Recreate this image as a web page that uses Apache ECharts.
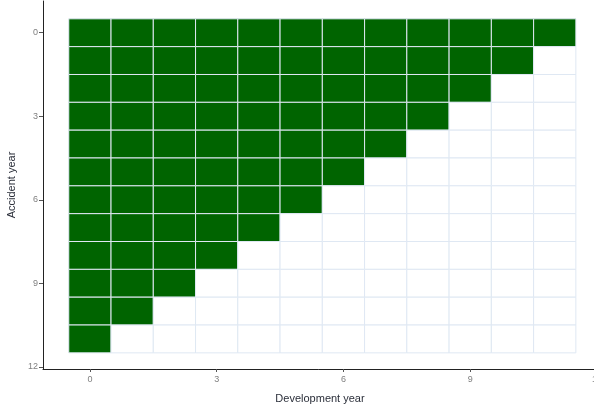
<!DOCTYPE html>
<html>
<head>
<meta charset="utf-8">
<script src="https://cdn.jsdelivr.net/npm/echarts@6/dist/echarts.min.js"></script>
<style>
  html, body { margin: 0; padding: 0; background: #fff; }
  #chart { width: 594px; height: 408px; }
</style>
</head>
<body>
<div id="chart"></div>
<script>
// Run-off triangle: which accident/development year cells have been observed
const accidentYears = [0, 1, 2, 3, 4, 5, 6, 7, 8, 9, 10, 11];
const developmentYears = [0, 1, 2, 3, 4, 5, 6, 7, 8, 9, 10, 11];
// number of observed development years for each accident year
const observedPeriods = [12, 11, 10, 9, 8, 7, 6, 5, 4, 3, 2, 1];
const xTickValues = [0, 3, 6, 9, 12];
const yTickValues = [0, 3, 6, 9, 12];

const cells = [];
accidentYears.forEach((ay, i) => {
  developmentYears.forEach((dy, j) => {
    cells.push([dy, ay, j < observedPeriods[i] ? 1 : 0]);
  });
});

const chart = echarts.init(document.getElementById('chart'));

const tickLabel = { color: '#7f7f7f', fontSize: 9, fontFamily: 'Liberation Sans, Arial, sans-serif' };
const nameStyle = { color: '#2b2f3a', fontSize: 11, fontFamily: 'Liberation Sans, Arial, sans-serif' };

chart.setOption({
  animation: false,
  grid: { left: 43, right: -3, top: 1, bottom: 39, containLabel: false, outerBoundsMode: 'none' },
  xAxis: {
    type: 'value',
    min: -1.11,
    max: 12,
    name: 'Development year',
    nameLocation: 'middle',
    nameGap: 24,
    nameTextStyle: nameStyle,
    axisLine: { show: true, onZero: false, lineStyle: { color: '#222', width: 1 } },
    axisTick: { show: true, length: 3, lineStyle: { color: '#555' }, customValues: xTickValues },
    axisLabel: Object.assign({ customValues: xTickValues, margin: 6 }, tickLabel),
    splitLine: { show: false }
  },
  yAxis: {
    type: 'value',
    inverse: true,
    min: -1.14,
    max: 12.08,
    name: 'Accident year',
    nameLocation: 'middle',
    nameGap: 17,
    nameTextStyle: nameStyle,
    axisLine: { show: true, onZero: false, lineStyle: { color: '#222', width: 1 } },
    axisTick: { show: true, length: 4, lineStyle: { color: '#555' }, customValues: yTickValues },
    axisLabel: Object.assign({ customValues: yTickValues, margin: 5 }, tickLabel),
    splitLine: { show: false }
  },
  series: [{
    type: 'custom',
    data: cells,
    encode: { x: 0, y: 1 },
    renderItem: function (params, api) {
      const x = api.value(0), y = api.value(1), filled = api.value(2);
      const p1 = api.coord([x - 0.5, y - 0.5]);
      const p2 = api.coord([x + 0.5, y + 0.5]);
      const left = Math.min(p1[0], p2[0]), top = Math.min(p1[1], p2[1]);
      return {
        type: 'rect',
        shape: {
          x: left, y: top,
          width: Math.abs(p2[0] - p1[0]),
          height: Math.abs(p2[1] - p1[1])
        },
        style: {
          fill: filled ? '#006400' : '#ffffff',
          stroke: '#dfe8f3',
          lineWidth: 1
        }
      };
    }
  }]
});
</script>
</body>
</html>
